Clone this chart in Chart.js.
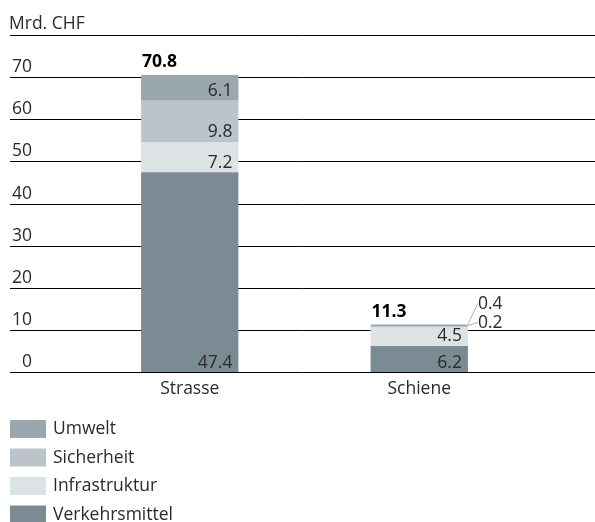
<!DOCTYPE html>
<html>
<head>
<meta charset="utf-8">
<script src="https://cdn.jsdelivr.net/npm/chart.js@4/dist/chart.umd.min.js"></script>
<style>
html,body{margin:0;padding:0;background:#fff;}
#wrap{width:595px;height:522px;position:relative;}
</style>
</head>
<body>
<div id="wrap"><canvas id="c" width="595" height="522"></canvas></div>
<script>
// ---- data ----
const categories = ['Strasse', 'Schiene'];
const verkehrsmittel = [47.4, 6.2];
const infrastruktur = [7.2, 4.5];
const sicherheit = [9.8, 0.2];
const umwelt = [6.1, 0.4];
const totals = ['70.8', '11.3'];
const yTicks = [0, 10, 20, 30, 40, 50, 60, 70];
const unitLabel = 'Mrd. CHF';

const FONT = '"Open Sans", "Noto Sans", sans-serif';
const FS = 17.5;
const TEXT = '#2a2a2a';

const datasets = [
  {label: 'Verkehrsmittel', data: verkehrsmittel, backgroundColor: '#7b8b93'},
  {label: 'Infrastruktur', data: infrastruktur, backgroundColor: '#dde2e5'},
  {label: 'Sicherheit', data: sicherheit, backgroundColor: '#bac4ca'},
  {label: 'Umwelt', data: umwelt, backgroundColor: '#9aa7ae'}
].map(d => Object.assign(d, {barPercentage: 0.424, categoryPercentage: 1, borderWidth: 0}));

const fmt = v => v.toFixed(1);

const gridPlugin = {
  id: 'grid',
  beforeDatasetsDraw(chart) {
    const ctx = chart.ctx, y = chart.scales.y;
    ctx.save();
    ctx.strokeStyle = '#000';
    ctx.lineWidth = 1;
    const vals = yTicks.concat([y.max]);
    vals.forEach(v => {
      const py = Math.round(y.getPixelForValue(v)) + 0.5;
      ctx.beginPath(); ctx.moveTo(10, py); ctx.lineTo(595, py); ctx.stroke();
    });
    ctx.fillStyle = TEXT;
    ctx.font = FS + 'px ' + FONT;
    ctx.textBaseline = 'alphabetic';
    ctx.textAlign = 'right';
    yTicks.forEach(v => {
      ctx.fillText(String(v), 32, y.getPixelForValue(v) - 5);
    });
    ctx.textAlign = 'left';
    ctx.fillText(unitLabel, 9, y.getPixelForValue(y.max) - 6);
    ctx.restore();
  },
  afterDatasetsDraw(chart) {
    const ctx = chart.ctx, y = chart.scales.y;
    ctx.save();
    ctx.font = FS + 'px ' + FONT;
    ctx.fillStyle = TEXT;
    categories.forEach((cat, i) => {
      let top = Infinity, left = 0, right = 0;
      const small = [];
      chart.data.datasets.forEach((ds, di) => {
        const el = chart.getDatasetMeta(di).data[i];
        const h = el.base - el.y;
        left = el.x - el.width / 2; right = el.x + el.width / 2;
        top = Math.min(top, el.y);
        if (h >= 10) {
          ctx.textAlign = 'right';
          ctx.textBaseline = 'alphabetic';
          ctx.fillText(fmt(ds.data[i]), right - 6, el.base - 4.5);
        } else {
          small.push({v: ds.data[i], el});
        }
      });
      // small segments: outside labels with leader lines, topmost first
      small.reverse().forEach((s, k) => {
        const lx = right + 10;
        const by = k === 0 ? top - 15 : top + 4;
        ctx.strokeStyle = '#9aa0a4';
        ctx.lineWidth = 0.8;
        ctx.beginPath();
        ctx.moveTo(right, top + k * 1.2);
        ctx.lineTo(lx, by - 6);
        ctx.stroke();
        ctx.textAlign = 'left';
        ctx.textBaseline = 'alphabetic';
        ctx.fillText(fmt(s.v), lx, by);
      });
      // totals
      ctx.font = 'bold ' + FS + 'px ' + FONT;
      ctx.textAlign = 'left';
      ctx.fillStyle = '#000';
      ctx.fillText(totals[i], left + 1, Math.min(top, y.getPixelForValue(parseFloat(totals[i]))) - 7);
      ctx.font = FS + 'px ' + FONT;
      ctx.fillStyle = TEXT;
    });
    // legend (top to bottom: reverse stacking order)
    const items = chart.data.datasets.slice().reverse();
    items.forEach((ds, k) => {
      const ty = 420 + k * 28.5;
      ctx.fillStyle = ds.backgroundColor;
      ctx.fillRect(10, ty, 36, 18);
      ctx.fillStyle = TEXT;
      ctx.textAlign = 'left';
      ctx.textBaseline = 'middle';
      ctx.fillText(ds.label, 53, ty + 9.5);
    });
    ctx.restore();
  }
};

new Chart(document.getElementById('c'), {
  type: 'bar',
  data: {labels: categories, datasets},
  options: {
    responsive: false,
    animation: false,
    layout: {padding: {left: 75, right: 61, top: 35, bottom: 115}},
    plugins: {legend: {display: false}, tooltip: {enabled: false}},
    scales: {
      x: {
        stacked: true,
        grid: {display: false, drawTicks: false},
        border: {display: false},
        ticks: {color: TEXT, font: {family: FONT, size: FS}, padding: 7}
      },
      y: {
        stacked: true,
        display: false,
        min: 0, max: 80
      }
    }
  },
  plugins: [gridPlugin]
});
</script>
</body>
</html>
